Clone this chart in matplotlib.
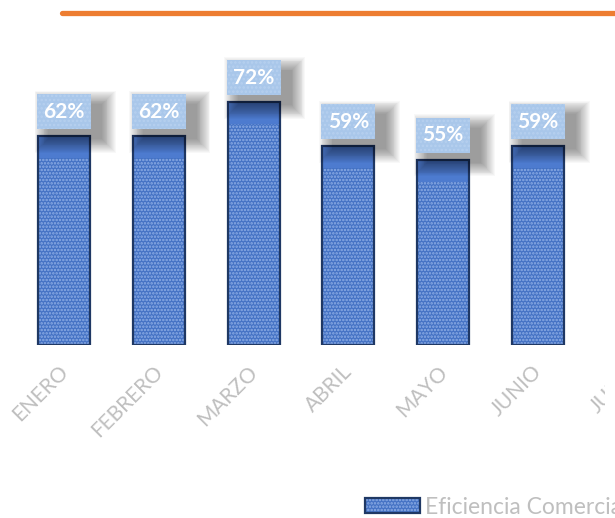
import matplotlib.pyplot as plt
import matplotlib.patches as patches
import matplotlib.transforms as mtransforms
from matplotlib.lines import Line2D
from matplotlib.legend_handler import HandlerTuple
import numpy as np

plt.rcParams['font.family'] = ['Lato', 'DejaVu Sans']
plt.rcParams['hatch.linewidth'] = 1.2

# data (JULIO is cut off at the right edge)
meses = ['ENERO', 'FEBRERO', 'MARZO', 'ABRIL', 'MAYO', 'JUNIO', 'JULIO']
eficiencia = [62, 62, 72, 59, 55, 59]
serie = 'Eficiencia Comercial'

W, H = 615, 518
fig = plt.figure(figsize=(W / 100, H / 100), dpi=100)

# axes: baseline at y=345px, bar centres 94.8px apart, first at x=64px
base_px = 345
step_px = 94.8
ax = fig.add_axes([0, 1 - base_px / H, 1, base_px / H])
ymax = 102.4
py = base_px / ymax  # pixels per unit on y

x = np.arange(len(eficiencia))
bw = 52 / step_px

# hatched body
body = ax.bar(x, eficiencia, width=bw, color='#4472c4', edgecolor='#8eaee6',
              hatch='.....', linewidth=0, zorder=2)
# solid cap at the top of each bar
cap_h = 22 / py
for xi, v in zip(x, eficiencia):
    ax.add_patch(patches.Rectangle((xi - bw / 2, v - cap_h), bw, cap_h,
                                   facecolor='#4d7bcf', edgecolor='none', zorder=3))
outline = ax.bar(x, eficiencia, width=bw, color='none', edgecolor='#1f3864',
                 linewidth=1.6, zorder=4)

# data labels with a soft drop shadow
bx_w = 54 / step_px
bx_h = 35 / py
gap = 7 / py
for xi, v in zip(x, eficiencia):
    y0 = v + gap
    for k in range(16):
        e = k * 0.9
        ax.add_patch(patches.Rectangle(
            (xi - bx_w / 2 + (11 - e) / step_px, y0 - (10 + e) / py),
            bx_w + 2 * e / step_px, bx_h + 2 * e / py,
            facecolor='black', edgecolor='none', alpha=0.027, zorder=5))
    ax.add_patch(patches.Rectangle((xi - bx_w / 2, y0), bx_w, bx_h,
                                   facecolor='#a9c7ea', edgecolor='#b6d0ef',
                                   hatch='....', linewidth=0, zorder=6))
    ax.text(xi, y0 + bx_h / 2, f'{v}%', ha='center', va='center',
            color='white', fontsize=15, fontweight='bold', zorder=7)

# month labels, nudged a little left of the bar centre
shift = mtransforms.ScaledTranslation(-0.06, 0, fig.dpi_scale_trans)
ax.set_xticks(np.arange(len(meses) - 1))
ax.set_xticklabels(meses[:-1], rotation=45, ha='right', rotation_mode='anchor',
                   color='#bfbfbf', fontsize=15)
ax.tick_params(axis='x', length=0, pad=12)
for lab in ax.get_xticklabels():
    lab.set_transform(lab.get_transform() + shift)
# last month sits past the right edge, only its start shows
ax.annotate(meses[-1], xy=(len(meses) - 1, 0), xycoords=ax.get_xaxis_transform(),
            xytext=(-6, -17), textcoords='offset pixels', rotation=45,
            ha='right', va='top', rotation_mode='anchor', color='#bfbfbf',
            fontsize=15, annotation_clip=False)
ax.set_xlim(-64 / step_px, (W - 64) / step_px)
ax.set_ylim(0, ymax)
ax.set_yticks([])
for s in ax.spines.values():
    s.set_visible(False)

leg = fig.legend([(body[0], outline[0])], [serie], loc='center left',
                 bbox_to_anchor=(365 / W, 11 / H), frameon=False, fontsize=16.5,
                 handlelength=2.4, handleheight=0.58, handletextpad=0.22,
                 borderpad=0, borderaxespad=0,
                 handler_map={tuple: HandlerTuple(ndivide=1)})
for t in leg.get_texts():
    t.set_color('#bfbfbf')

# the month labels are cropped a few pixels before the right edge
fig.add_artist(patches.Rectangle((605 / W, 1 - 440 / H), 10 / W, 90 / H,
                                 facecolor='white', edgecolor='none',
                                 transform=fig.transFigure, zorder=20))

# orange rule at the top
fig.add_artist(Line2D([62 / W, 1.0], [1 - 13 / H, 1 - 13 / H], color='#ed7d31',
                      lw=3.8, solid_capstyle='round', transform=fig.transFigure))

fig.savefig('out.png', dpi=100)
